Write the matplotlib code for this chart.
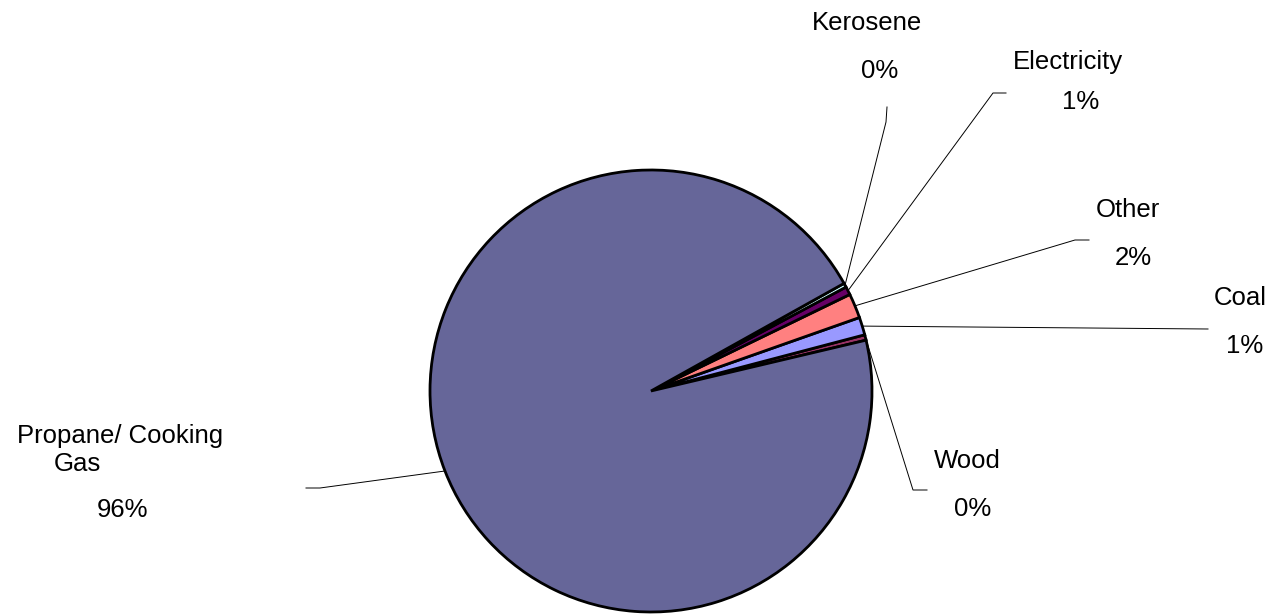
import numpy as np
import matplotlib
matplotlib.use('Agg')
import matplotlib.pyplot as plt

plt.rcParams['font.family'] = ['Liberation Sans', 'DejaVu Sans']

# slices, counterclockwise from startangle
fuels = ['Wood', 'Coal', 'Other', 'Electricity', 'Kerosene', 'Propane/ Cooking Gas']
shares = [0.4, 1.3, 1.8, 0.6, 0.3, 95.6]
colors = ['#993366', '#9999FF', '#FF8080', '#660066', '#CCFFFF', '#666699']

W, H = 1274, 616
cx, cy, R = 651, 391, 221


def px(x, y):
    """pixel position -> data coords (pie centre 0,0, radius 1)"""
    return (x - cx) / R, (cy - y) / R


fig = plt.figure(figsize=(W / 100, H / 100), dpi=100)
ax = fig.add_axes([0, 0, 1, 1])
wedges, _ = ax.pie(shares, colors=colors, startangle=13.3, counterclock=True,
                   radius=1, wedgeprops=dict(edgecolor='black', linewidth=2))
ax.set_xlim(px(0, 0)[0], px(W, 0)[0])
ax.set_ylim(px(0, H)[1], px(0, 0)[1])
ax.set_aspect('auto')
ax.axis('off')

# label layout: name position, pct position, leader elbow points (pixels)
layout = {
    'Wood': ((967, 461), (973, 509), [(913, 490), (927, 490)]),
    'Coal': ((1240, 298), (1245, 346), [(1208, 329)]),
    'Other': ((1128, 210), (1133, 258), [(1075, 240), (1089, 240)]),
    'Electricity': ((1068, 62), (1081, 102), [(993, 93), (1006, 93)]),
    'Kerosene': ((867, 23), (880, 71), [(886, 122), (887, 107)]),
    'Propane/ Cooking Gas': ((120, 436), (122, 510), [(320, 488), (306, 488)]),
}

for w, name, val in zip(wedges, fuels, shares):
    npos, ppos, elbow = layout[name]
    mid = np.deg2rad((w.theta1 + w.theta2) / 2)
    xs = [np.cos(mid)] + [px(*p)[0] for p in elbow]
    ys = [np.sin(mid)] + [px(*p)[1] for p in elbow]
    ax.plot(xs, ys, color='black', lw=0.7)
    if name.startswith('Propane'):
        ax.text(*px(*npos), 'Propane/ Cooking', ha='center', va='center', fontsize=18.5)
        ax.text(*px(77, 464), 'Gas', ha='center', va='center', fontsize=18.5)
    else:
        ax.text(*px(*npos), name, ha='center', va='center', fontsize=18.5)
    ax.text(*px(*ppos), '%d%%' % round(val), ha='center', va='center', fontsize=18.5)

fig.savefig('out.png', dpi=100)
